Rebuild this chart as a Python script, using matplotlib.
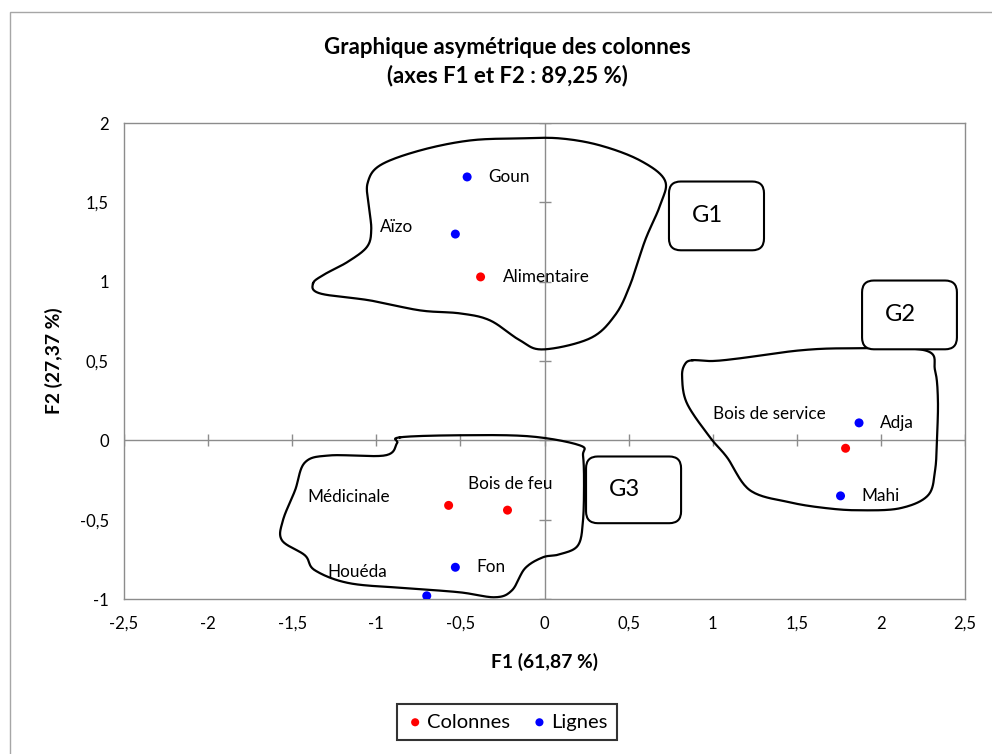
import numpy as np
import matplotlib
matplotlib.use("Agg")
import matplotlib.pyplot as plt
from matplotlib.patches import FancyBboxPatch, Rectangle

plt.rcParams['font.family'] = ['Lato', 'DejaVu Sans']

# ---- data ----
col_names = ["Alimentaire", "Bois de service", "Médicinale", "Bois de feu"]
col_x = [-0.38, 1.79, -0.57, -0.22]
col_y = [1.03, -0.05, -0.41, -0.44]

row_names = ["Goun", "Aïzo", "Adja", "Mahi", "Fon", "Houéda"]
row_x = [-0.46, -0.53, 1.87, 1.76, -0.53, -0.70]
row_y = [1.66, 1.30, 0.11, -0.35, -0.80, -0.98]

xticks = [-2.5, -2, -1.5, -1, -0.5, 0, 0.5, 1, 1.5, 2, 2.5]
yticks = [-1, -0.5, 0, 0.5, 1, 1.5, 2]

# label offsets in pixels (dx, dy, ha)
col_lab = {"Alimentaire": (22, 0, 'left'), "Bois de service": (-20, 34, 'right'),
           "Médicinale": (-59, 8, 'right'), "Bois de feu": (-39, 26, 'left')}
row_lab = {"Goun": (21, 0, 'left'), "Aïzo": (-42, 7, 'right'), "Adja": (21, 0, 'left'),
           "Mahi": (21, 0, 'left'), "Fon": (21, 0, 'left'), "Houéda": (-40, 24, 'right')}

# group outline shapes (data coords)
G1 = [(-1.376, 0.989), (-1.310, 1.045), (-1.170, 1.125), (-1.055, 1.220), (-1.030, 1.330),
      (-1.045, 1.480), (-1.052, 1.620), (-0.978, 1.733),
      (-0.740, 1.827), (-0.443, 1.890), (-0.146, 1.903), (0.092, 1.903), (0.330, 1.859),
      (0.568, 1.764), (0.716, 1.638), (0.687, 1.481), (0.598, 1.260), (0.508, 0.977),
      (0.419, 0.788), (0.271, 0.643), (-0.009, 0.573), (-0.146, 0.630), (-0.324, 0.756),
      (-0.502, 0.800), (-0.740, 0.819), (-1.038, 0.882), (-1.335, 0.926)]
G2 = [(0.880, 0.505), (1.000, 0.500), (1.162, 0.517), (1.519, 0.567), (1.816, 0.580),
      (2.262, 0.567), (2.322, 0.441), (2.339, 0.252), (2.333, 0.000), (2.322, -0.189),
      (2.280, -0.347), (2.114, -0.428), (1.876, -0.441), (1.680, -0.428), (1.460, -0.391),
      (1.222, -0.315), (1.085, -0.107), (0.984, 0.019), (0.847, 0.233), (0.818, 0.400),
      (0.835, 0.480)]
G3 = [(-0.859, 0.019), (-0.502, 0.032), (-0.086, 0.025), (0.211, -0.032), (0.229, -0.095),
      (0.235, -0.252), (0.229, -0.504), (0.199, -0.662), (0.092, -0.718), (-0.009, -0.737),
      (-0.116, -0.807), (-0.193, -0.945), (-0.294, -0.989), (-0.502, -0.958), (-0.800, -0.933),
      (-1.157, -0.901), (-1.365, -0.819), (-1.424, -0.725), (-1.561, -0.630), (-1.555, -0.504),
      (-1.483, -0.315), (-1.424, -0.139), (-1.275, -0.095), (-0.948, -0.095), (-0.877, -0.019)]

boxes = {"G1": (0.740, 1.197, 1.305, 1.632), "G2": (1.888, 0.573, 2.452, 1.008),
         "G3": (0.247, -0.523, 0.812, -0.101)}


def closed_catmull(pts, n=20):
    p = np.array(pts)
    m = len(p)
    out = []
    for i in range(m):
        p0, p1, p2, p3 = p[(i - 1) % m], p[i], p[(i + 1) % m], p[(i + 2) % m]
        t = np.linspace(0, 1, n, endpoint=False)[:, None]
        c = 0.5 * ((2 * p1) + (-p0 + p2) * t + (2 * p0 - 5 * p1 + 4 * p2 - p3) * t ** 2
                   + (-p0 + 3 * p1 - 3 * p2 + p3) * t ** 3)
        out.append(c)
    out = np.vstack(out)
    return np.vstack([out, out[:1]])


fig = plt.figure(figsize=(9.92, 7.54), dpi=100)
fig.patches.append(Rectangle((10 / 992, -0.1), 1.2, (754 - 12) / 754 + 0.1, transform=fig.transFigure,
                             fill=False, edgecolor='#a6a6a6', linewidth=1.0))
ax = fig.add_axes([124 / 992, 1 - 599 / 754, (965 - 124) / 992, (599 - 123) / 754])
ax.set_xlim(-2.5, 2.5)
ax.set_ylim(-1, 2)
for s in ax.spines.values():
    s.set_color('#8c8c8c')
    s.set_linewidth(1.0)

ax.set_xticks(xticks)
ax.set_yticks(yticks)
fmt = lambda v: (("%g" % v).replace('.', ','))
ax.set_xticklabels([fmt(v) for v in xticks], fontsize=12)
ax.set_yticklabels([fmt(v) for v in yticks], fontsize=12)
ax.tick_params(length=0, pad=12)
ax.tick_params(axis='y', pad=11)

ax.axhline(0, color='#8c8c8c', lw=1.0, zorder=1)
ax.axvline(0, color='#8c8c8c', lw=1.0, zorder=1)
ax.plot(xticks, [0] * len(xticks), linestyle='none', marker='|', markersize=8,
        color='#8c8c8c', markeredgewidth=1.0, zorder=1)
ax.plot([0] * len(yticks), yticks, linestyle='none', marker='_', markersize=8,
        color='#8c8c8c', markeredgewidth=1.0, zorder=1)

for shape in (G1, G2, G3):
    c = closed_catmull(shape)
    ax.plot(c[:, 0], c[:, 1], color='black', lw=1.6, zorder=2, solid_joinstyle='round')

for name, (x0, y0, x1, y1) in boxes.items():
    ax.add_patch(FancyBboxPatch((x0 + 0.07, y0 + 0.075), (x1 - x0) - 0.14, (y1 - y0) - 0.15,
                                boxstyle="round,pad=0.07", mutation_aspect=1.06,
                                facecolor='white', edgecolor='black', lw=1.5, zorder=3))
    ax.text(x0 + 0.23, (y0 + y1) / 2, name, fontsize=17, ha='center', va='center', zorder=4,
            family=['Lato', 'DejaVu Sans'])

ax.scatter(col_x, col_y, s=42, color='red', zorder=5, label='Colonnes', edgecolors='none')
ax.scatter(row_x, row_y, s=42, color='blue', zorder=5, label='Lignes', edgecolors='none')

for n, x, y in zip(col_names, col_x, col_y):
    dx, dy, ha = col_lab[n]
    ax.annotate(n, (x, y), xytext=(dx * 0.72, dy * 0.72), textcoords='offset points',
                ha=ha, va='center', fontsize=12.3, zorder=6)
for n, x, y in zip(row_names, row_x, row_y):
    dx, dy, ha = row_lab[n]
    ax.annotate(n, (x, y), xytext=(dx * 0.72, dy * 0.72), textcoords='offset points',
                ha=ha, va='center', fontsize=12.3, zorder=6)

ax.set_xlabel("F1 (61,87 %)", fontsize=13.9, fontweight='bold', labelpad=15)
ax.set_ylabel("F2 (27,37 %)", fontsize=13.9, fontweight='bold', labelpad=12)

fig.text(507 / 992, 1 - 47 / 754, "Graphique asymétrique des colonnes", ha='center', va='center',
         fontsize=16, fontweight='bold')
fig.text(507 / 992, 1 - 76 / 754, "(axes F1 et F2 : 89,25 %)", ha='center', va='center',
         fontsize=16, fontweight='bold')

leg = fig.legend(loc='center', bbox_to_anchor=(507 / 992, 1 - 722 / 754), ncol=2, fontsize=14.5,
                 frameon=True, fancybox=False, edgecolor='black', handletextpad=0.15,
                 columnspacing=1.0, handlelength=0.9, markerscale=0.9, borderpad=0.45)
leg.get_frame().set_linewidth(1.5)

fig.savefig("out.png", dpi=100)
